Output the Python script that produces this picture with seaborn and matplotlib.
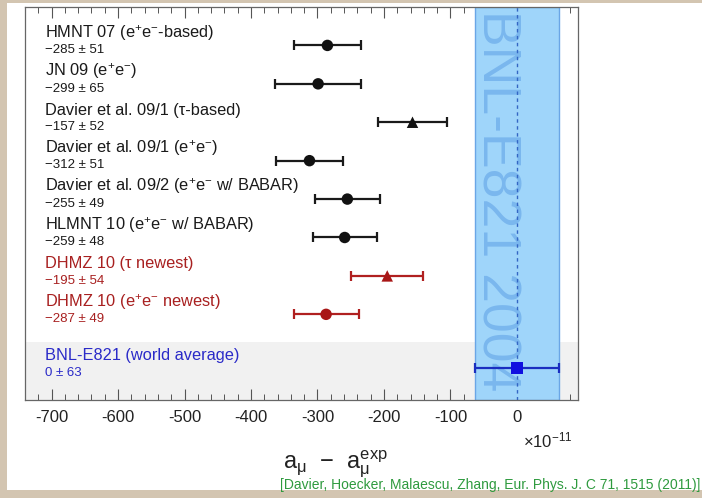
import matplotlib
matplotlib.use("Agg")
import matplotlib.pyplot as plt
import seaborn as sns
import pandas as pd
from matplotlib.ticker import MultipleLocator
from matplotlib.patches import Rectangle

# ---- data ----
names = [
    "HMNT 07 (e$^{+}$e$^{-}$-based)",
    "JN 09 (e$^{+}$e$^{-}$)",
    "Davier et al. 09/1 (\u03c4-based)",
    "Davier et al. 09/1 (e$^{+}$e$^{-}$)",
    "Davier et al. 09/2 (e$^{+}$e$^{-}$ w/ BABAR)",
    "HLMNT 10 (e$^{+}$e$^{-}$ w/ BABAR)",
    "DHMZ 10 (\u03c4 newest)",
    "DHMZ 10 (e$^{+}$e$^{-}$ newest)",
    "BNL-E821 (world average)",
]
values = [-285, -299, -157, -312, -255, -259, -195, -287, 0]
errors = [51, 65, 52, 51, 49, 48, 54, 49, 63]
shapes = ["circle", "circle", "triangle", "circle", "circle", "circle", "triangle", "circle", "square"]
groups = ["other", "other", "other", "other", "other", "other", "dhmz", "dhmz", "bnl"]
rows = [0, 1, 2, 3, 4, 5, 6, 7, 8.4]
xticks = [-700, -600, -500, -400, -300, -200, -100, 0]

# ---- style ----
sns.set_style("ticks")
plt.rcParams["font.family"] = ["Liberation Sans", "DejaVu Sans"]
plt.rcParams["axes.unicode_minus"] = False
plt.rcParams["mathtext.fontset"] = "custom"
plt.rcParams["mathtext.rm"] = "Liberation Sans"
plt.rcParams["mathtext.it"] = "Liberation Sans"
plt.rcParams["mathtext.bf"] = "Liberation Sans:bold"

beige = "#d3c5b1"
group_colors = {"other": "#111111", "dhmz": "#a81616", "bnl": "#1010e0"}
text_colors = {"other": "#1a1a1a", "dhmz": "#a82020", "bnl": "#2a2ac8"}
bar_colors = {"other": "#1a1a1a", "dhmz": "#b02020", "bnl": "#1a2ec0"}

fig = plt.figure(figsize=(7.02, 4.98), dpi=100, facecolor=beige)
fig.patches.append(Rectangle((7 / 702, 8 / 498), 1, (498 - 3 - 8) / 498,
                             transform=fig.transFigure, facecolor="white",
                             edgecolor="none", zorder=-10))
ax = fig.add_axes([25 / 702, 1 - 400 / 498, (578 - 25) / 702, (400 - 7) / 498])

df = pd.DataFrame({"value": values, "err": errors, "row": rows,
                   "shape": shapes, "group": groups, "name": names})

# bands
ax.axhspan(7.72, 9.5, color="#f1f1f1", zorder=0, lw=0)
ax.axvspan(-63, 63, facecolor="#9fd5fa", edgecolor="#6aa6e6", lw=1.0, zorder=1)
ax.text(-31, -0.93, "BNL-E821 2004", rotation=-90, ha="center", va="top",
        fontsize=38.5, color="#7ab7ee", zorder=2)
ax.axvline(0, color="#3466c4", lw=1.0, ls=(0, (2.5, 2.5)), zorder=2)

# error bars
for g, sub in df.groupby("group"):
    ax.errorbar(sub["value"], sub["row"], xerr=sub["err"], fmt="none",
                ecolor=bar_colors[g], elinewidth=1.6, capsize=3.4,
                capthick=1.6, zorder=3)

# markers
sns.scatterplot(data=df, x="value", y="row", hue="group", style="shape",
                palette=group_colors,
                markers={"circle": "o", "triangle": "^", "square": "s"},
                s=68, linewidth=0, legend=False, ax=ax, zorder=4)

# labels
for _, r in df.iterrows():
    c = text_colors[r["group"]]
    ax.text(-710, r["row"] - 0.2, r["name"], ha="left", va="baseline",
            fontsize=11.8, color=c, zorder=5)
    val = f"\u2212{abs(r['value'])}" if r["value"] < 0 else f"{r['value']}"
    ax.text(-710, r["row"] + 0.2, f"{val} \u00b1 {r['err']}",
            ha="left", va="baseline", fontsize=9.5, color=c, zorder=5)

ax.set_xlim(-740, 92)
ax.set_ylim(9.23, -1.0)
ax.set_xticks(xticks)
ax.set_xticklabels([str(t) for t in xticks])
ax.xaxis.set_minor_locator(MultipleLocator(20))
ax.set_yticks([])
ax.set_xlabel("")
ax.set_ylabel("")
ax.tick_params(axis="x", which="both", direction="in", top=True, bottom=True,
               color="#555555", labelsize=12, labelcolor="#222222", pad=7)
ax.tick_params(axis="x", which="major", length=8, width=0.8)
ax.tick_params(axis="x", which="minor", length=4, width=0.7)
for s in ax.spines.values():
    s.set_color("#666666")
    s.set_linewidth(0.9)
    s.set_visible(True)

fig.text(523 / 702, 1 - 447 / 498, "\u00d710$^{-11}$", fontsize=12,
         color="#222222", ha="left", va="baseline")
fig.text(335 / 702, 1 - 468 / 498, r"a$_{\mu}$  $-$  a$_{\mu}^{exp}$",
         fontsize=17, color="#222222", ha="center", va="baseline")
fig.text(700 / 702, 1 - 489 / 498,
         "[Davier, Hoecker, Malaescu, Zhang, Eur. Phys. J. C 71, 1515 (2011)]",
         fontsize=10, color="#2e9a3e", ha="right", va="baseline")

fig.savefig("out.png", dpi=100, facecolor=beige)
